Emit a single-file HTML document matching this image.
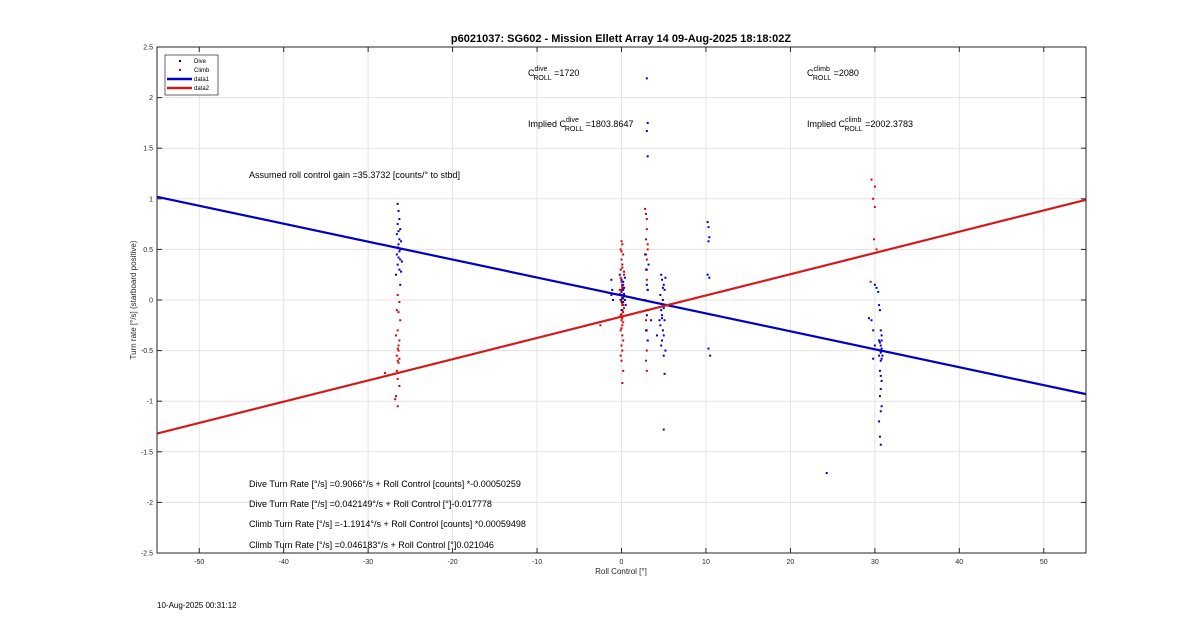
<!DOCTYPE html>
<html><head><meta charset="utf-8"><style>
body{margin:0;background:#fff;font-family:"Liberation Sans",sans-serif}
svg text{font-family:"Liberation Sans",sans-serif}
</style></head><body>
<svg id="chart" width="1200" height="622" xmlns="http://www.w3.org/2000/svg">
<rect width="1200" height="622" fill="#fff"/>
<g id="grid"></g>
<g id="marks"></g>
<rect x="157" y="47" width="929" height="506" fill="none" stroke="#262626" stroke-width="1"/>
<g id="ticks"></g>
<text x="621" y="42" font-size="11" font-weight="bold" text-anchor="middle" fill="#000">p6021037: SG602 - Mission Ellett Array 14 09-Aug-2025 18:18:02Z</text>
<text x="621" y="574" font-size="8" text-anchor="middle" fill="#262626">Roll Control [°]</text>
<text transform="translate(136,300) rotate(-90)" font-size="8" text-anchor="middle" fill="#262626">Turn rate [°/s] (starboard positive)</text>
<g font-size="9" fill="#000">
<text x="528" y="76">C<tspan font-size="7" dy="-5">dive</tspan><tspan font-size="7" dx="-14" dy="9">ROLL</tspan><tspan dy="-4"> =1720</tspan></text>
<text x="807" y="76">C<tspan font-size="7" dy="-5">climb</tspan><tspan font-size="7" dx="-17" dy="9">ROLL</tspan><tspan dy="-4"> =2080</tspan></text>
<text x="528" y="127">Implied C<tspan font-size="7" dy="-5">dive</tspan><tspan font-size="7" dx="-14" dy="9">ROLL</tspan><tspan dy="-4"> =1803.8647</tspan></text>
<text x="807" y="127">Implied C<tspan font-size="7" dy="-5">climb</tspan><tspan font-size="7" dx="-17" dy="9">ROLL</tspan><tspan dy="-4"> =2002.3783</tspan></text>
<text x="249" y="178">Assumed roll control gain =35.3732 [counts/° to stbd]</text>
<text x="249" y="487">Dive Turn Rate [°/s] =0.9066°/s + Roll Control [counts] *-0.00050259</text>
<text x="249" y="507">Dive Turn Rate [°/s] =0.042149°/s + Roll Control [°]-0.017778</text>
<text x="249" y="527">Climb Turn Rate [°/s] =-1.1914°/s + Roll Control [counts] *0.00059498</text>
<text x="249" y="548">Climb Turn Rate [°/s] =0.046183°/s + Roll Control [°]0.021046</text>
</g>
<g>
<rect x="165" y="55" width="53" height="40" fill="#fff" stroke="#262626" stroke-width="0.7"/>
<rect x="179" y="60" width="2" height="2" fill="#0000cc"/><text x="194" y="63" font-size="6">Dive</text>
<rect x="179" y="69" width="2" height="2" fill="#cc0000"/><text x="194" y="72" font-size="6">Climb</text>
<line x1="167" y1="79" x2="192" y2="79" stroke="#0000cc" stroke-width="2.5"/><text x="194" y="81" font-size="6">data1</text>
<line x1="167" y1="88" x2="192" y2="88" stroke="#cc1a1a" stroke-width="2.5"/><text x="194" y="90" font-size="6">data2</text>
</g>
<text x="157" y="608" font-size="8" fill="#000">10-Aug-2025 00:31:12</text>
</svg>
<script>
const xTicks=[-50,-40,-30,-20,-10,0,10,20,30,40,50];
const yTicks=[-2.5,-2,-1.5,-1,-0.5,0,0.5,1,1.5,2,2.5];
const diveLine=[1.02,-0.93];
const climbLine=[-1.32,0.99];
const diveX=[-26.5,-26.4,-26.3,-26.5,-26.2,-26.4,-26.6,-26.3,-26.1,-26.4,-26.5,-26.2,-26.3,-26.6,-26.4,-26.2,-26.0,-26.5,-26.3,-26.1,-26.7,-26.2,
 -1.2,-1.1,-1.2,-1.0,-0.2,0,0.1,0.2,0.3,0.4,0.5,0.1,0.2,0.3,0,0.4,0.2,0.1,0.3,
 2.8,3.0,3.1,3.2,2.9,3.5,3.0,3.1,3.2,3.0,
 4.2,4.5,4.7,4.8,5.0,5.1,4.6,4.9,5.0,4.7,4.8,5.1,4.6,4.9,5.0,4.8,4.7,5.2,4.9,5.0,4.8,5.2,5.0,
 10.2,10.3,10.4,10.3,10.2,10.4,10.3,10.5,
 29.3,29.6,29.8,30.0,30.2,30.4,30.5,30.6,30.7,30.8,30.5,30.6,30.7,30.8,30.6,30.7,30.5,30.8,30.7,30.6,30.7,30.8,30.7,30.6,30.8,30.7,30.5,30.6,30.7,30.8,30.7,30.9,30.0,29.8,
 24.3,3.0,3.1,3.0,3.1,5.0,5.1];
const diveY=[0.95,0.88,0.8,0.75,0.7,0.68,0.65,0.6,0.58,0.55,0.52,0.5,0.48,0.45,0.42,0.4,0.38,0.35,0.3,0.28,0.25,0.15,
 0.2,0.1,0.05,0,0.25,0.2,0.15,0.1,0.05,0,-0.05,-0.1,0.18,0.12,0.08,0.22,-0.02,0.02,0.06,
 0.45,0.3,0.1,-0.1,-0.3,-0.2,0.15,-0.4,0.35,-0.15,
 -0.35,-0.2,0.25,0.2,0.15,0.1,0.05,0,-0.05,-0.1,-0.15,-0.2,-0.25,-0.3,-0.35,-0.4,-0.45,-0.5,0.12,-0.08,-0.18,0.22,-0.55,
 0.77,0.72,0.62,0.58,0.25,0.22,-0.48,-0.55,
 -0.18,-0.2,-0.3,0.15,0.12,0.08,-0.05,-0.1,-0.3,-0.35,-0.4,-0.42,-0.45,-0.48,-0.5,-0.52,-0.55,-0.58,-0.6,-0.7,-0.75,-0.8,-0.88,-0.95,-1.05,-1.1,-1.2,-1.35,-1.43,-0.4,-0.5,-0.55,-0.45,-0.58,
 -1.71,2.19,1.75,1.67,1.42,-1.28,-0.73];
const climbX=[-26.5,-26.3,-26.6,-26.4,-26.2,-26.5,-26.7,-26.3,-26.4,-26.5,-26.4,-26.6,-26.3,-26.5,-26.4,-26.6,-26.5,-26.3,-26.7,-26.8,-26.5,-28.0,
 0,0.1,-0.1,0.2,0,0.1,-0.1,0.3,0,0.2,0.1,-0.2,0,0.1,0.2,-0.1,0,0.1,0.3,0,0.2,-0.1,0.1,0,0.2,0.1,0,-0.1,0.1,0.2,0,0.1,-0.1,0,0.2,0.1,0,-0.1,0.3,0.1,0,0.2,0.1,0,0.1,-0.2,0,0.1,
 2.8,2.9,3.0,3.0,2.9,3.1,3.0,2.9,3.0,3.1,2.8,3.0,2.9,3.0,3.1,3.0,2.9,3.0,3.1,2.9,
 29.6,30.0,29.8,30.0,29.9,30.2,29.5,-2.5];
const climbY=[0.05,-0.02,-0.1,-0.12,-0.2,-0.3,-0.35,-0.4,-0.45,-0.48,-0.5,-0.55,-0.58,-0.6,-0.62,-0.7,-0.78,-0.85,-0.95,-0.98,-1.05,-0.72,
 0.58,0.55,0.5,0.45,0.4,0.35,0.3,0.25,0.2,0.15,0.12,0.1,0.08,0.05,0.02,0,-0.02,-0.05,-0.08,-0.1,-0.12,-0.15,-0.18,-0.2,-0.22,-0.25,-0.28,-0.3,-0.35,-0.4,-0.45,-0.5,-0.55,-0.6,-0.7,-0.82,0.18,0.22,0.28,0.05,0.1,-0.05,0.14,-0.14,0.32,0.06,0.48,-0.03,
 0.9,0.85,0.8,0.7,0.6,0.5,0.4,0.3,0.2,0.1,0,-0.1,-0.2,-0.3,-0.4,-0.5,-0.6,-0.7,0.55,0.45,
 1.19,1.12,1.0,0.92,0.6,0.5,0.18,-0.25];
const L=157,R=1086,T=47,B=553,xmin=-55,xmax=55,ymin=-2.5,ymax=2.5;
const sx=v=>L+(v-xmin)/(xmax-xmin)*(R-L);
const sy=v=>B-(v-ymin)/(ymax-ymin)*(B-T);
const NS='http://www.w3.org/2000/svg';
function mk(tag,attrs,parent){const e=document.createElementNS(NS,tag);for(const k in attrs)e.setAttribute(k,attrs[k]);parent.appendChild(e);return e;}
const grid=document.getElementById('grid'),ticks=document.getElementById('ticks'),marks=document.getElementById('marks');
xTicks.forEach(t=>{const x=sx(t);
 const g=mk('line',{x1:x,x2:x,y1:T,y2:B,stroke:'#e3e3e3','stroke-width':1},grid);
 
 
 const tl=mk('text',{x:x,y:B+11,'font-size':7,'text-anchor':'middle',fill:'#262626'},ticks);tl.textContent=t;
 
 
 mk('line',{x1:x,x2:x,y1:B,y2:B-5,stroke:'#262626'},ticks);mk('line',{x1:x,x2:x,y1:T,y2:T+5,stroke:'#262626'},ticks);});
yTicks.forEach(t=>{const y=sy(t);
 const g=mk('line',{x1:L,x2:R,y1:y,y2:y,stroke:'#e3e3e3','stroke-width':1},grid);
 
 
 const tl=mk('text',{x:L-4,y:y+2.5,'font-size':7,'text-anchor':'end',fill:'#262626'},ticks);tl.textContent=t;
 
 
 mk('line',{x1:L,x2:L+5,y1:y,y2:y,stroke:'#262626'},ticks);mk('line',{x1:R,x2:R-5,y1:y,y2:y,stroke:'#262626'},ticks);});
function pts(xs,ys,col,name){xs.forEach((x,i)=>{const r=mk('rect',{x:sx(x)-1,y:sy(ys[i])-1,width:2,height:2,fill:col},marks);
 
 });}
pts(climbX,climbY,'#dd0000','climb-point');
pts(diveX,diveY,'#0000cc','dive-point');
const l1=mk('line',{x1:sx(xmin),y1:sy(diveLine[0]),x2:sx(xmax),y2:sy(diveLine[1]),stroke:'#0000c8','stroke-width':2.2},marks);


const l2=mk('line',{x1:sx(xmin),y1:sy(climbLine[0]),x2:sx(xmax),y2:sy(climbLine[1]),stroke:'#d41a1a','stroke-width':2.2},marks);


const c=mk('text',{x:sx(0),y:sy(0)+3,'font-size':9,'text-anchor':'middle',fill:'#000'},marks);c.textContent='+';


</script>
</body></html>
